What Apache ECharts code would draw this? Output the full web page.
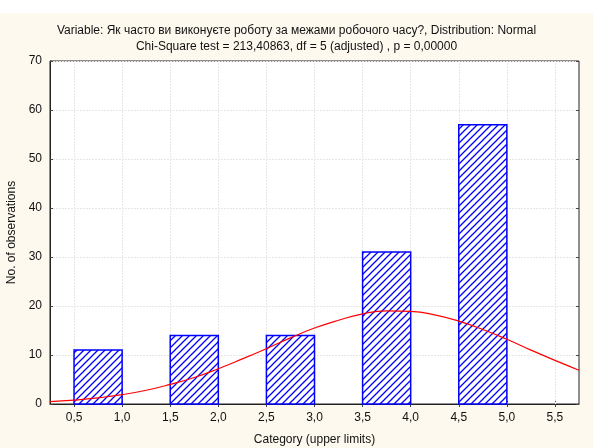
<!DOCTYPE html>
<html><head><meta charset="utf-8">
<script src="https://cdn.jsdelivr.net/npm/echarts@6/dist/echarts.min.js"></script>
<style>html,body{margin:0;padding:0;background:#fdf9ef}#c{width:593px;height:448px}</style>
</head><body><div id="c"></div>
<script>
// Histogram bins: [lower, upper] limits and observed counts
const binLower = [0.5, 1.5, 2.5, 3.5, 4.5];
const binUpper = [1.0, 2.0, 3.0, 4.0, 5.0];
const counts = [11, 14, 14, 31, 57];
// Fitted normal curve (expected frequency)
const curveX = [0.25,0.5,0.75,1.0,1.25,1.5,1.75,2.0,2.25,2.5,2.75,3.0,3.25,3.5,3.75,4.0,4.25,4.5,4.75,5.0,5.25,5.5,5.75];
const curveY = [0.5,0.8,1.25,1.9,2.8,4.0,5.4,7.2,9.2,11.3,13.5,15.5,17.1,18.4,19.0,18.9,18.2,16.9,15.2,13.2,11.0,8.9,6.9];
const xTicks = [0.5,1.0,1.5,2.0,2.5,3.0,3.5,4.0,4.5,5.0,5.5];
const titleLines = ['Variable: Як часто ви виконуєте роботу за межами робочого часу?, Distribution: Normal',
                    'Chi-Square test = 213,40863, df = 5 (adjusted) , p = 0,00000'];

const hatch = document.createElement('canvas');
hatch.width = 7; hatch.height = 7;
(function(){
  const g = hatch.getContext('2d');
  g.fillStyle = '#ffffff'; g.fillRect(0,0,7,7);
  g.strokeStyle = '#0000ff'; g.lineWidth = 1.3;
  g.beginPath();
  g.moveTo(-1,8); g.lineTo(8,-1);
  g.moveTo(-8,8); g.lineTo(1,-1);
  g.moveTo(6,8); g.lineTo(15,-1);
  g.stroke();
})();
const pattern = {image: hatch, repeat: 'repeat'};

const font = '"Liberation Sans", Arial, sans-serif';
const fmt = v => v.toFixed(1).replace('.', ',');
const chart = echarts.init(document.getElementById('c'), null, {renderer:'canvas'});
const barData = binLower.map((l,i)=>[l, binUpper[i], counts[i]]);
const curveData = curveX.map((x,i)=>[x, curveY[i]]);
const gridColor = '#e6e6e6';

chart.setOption({
  backgroundColor: '#fdf9ef',
  animation: false,
  textStyle: {fontFamily: font},
  graphic: [{type:'rect', shape:{x:0,y:0,width:593,height:13}, style:{fill:'#ffffff'}, z:-1}],
  title: {
    text: titleLines.join('\n'), left: 'center', top: 18,
    textStyle: {fontFamily: font, fontSize: 12, fontWeight: 'normal', color: '#111', lineHeight: 16}
  },
  grid: {left: 50, right: 14, top: 61, bottom: 44, outerBoundsMode: 'none', containLabel: false,
         show: true, backgroundColor: '#ffffff', borderColor: '#222', borderWidth: 1},
  xAxis: [{
    type: 'value', min: 0.25, max: 5.75,
    name: 'Category (upper limits)', nameLocation: 'middle', nameGap: 30,
    nameTextStyle: {fontFamily: font, fontSize: 12, color: '#111'},
    axisLine: {show: true, lineStyle: {color: '#222'}},
    axisTick: {show: true, inside: true, length: 3, customValues: xTicks, lineStyle:{color:'#444'}},
    axisLabel: {customValues: xTicks, formatter: fmt, fontFamily: font, fontSize: 12, color: '#111', margin: 8},
    splitLine: {show: false}
  }, {
    type: 'value', min: 0.25, max: 5.75, position: 'top',
    axisLine: {show: false},
    axisTick: {show: true, inside: true, length: 3, customValues: xTicks, lineStyle:{color:'#444'}},
    axisLabel: {show: false, customValues: xTicks},
    splitLine: {show: false}
  }],
  yAxis: [{
    type: 'value', min: 0, max: 70, interval: 10,
    name: 'No. of observations', nameLocation: 'middle', nameGap: 29,
    nameTextStyle: {fontFamily: font, fontSize: 12, color: '#111'},
    axisLine: {show: true, lineStyle: {color: '#222'}},
    axisTick: {show: true, inside: true, length: 3, lineStyle:{color:'#444'}},
    axisLabel: {fontFamily: font, fontSize: 12, color: '#111', margin: 8},
    splitLine: {show: true, lineStyle: {color: gridColor, type: [2, 1]}}
  }, {
    type: 'value', min: 0, max: 70, interval: 10, position: 'right',
    axisLine: {show: false},
    axisTick: {show: true, inside: true, length: 3, lineStyle:{color:'#444'}},
    axisLabel: {show: false}, splitLine: {show: false}
  }],
  series: [{
    type: 'custom', data: barData, encode: {x: [0,1], y: 2},
    renderItem: function(params, api){
      const p0 = api.coord([api.value(0), api.value(2)]);
      const p1 = api.coord([api.value(1), 0]);
      return {type:'rect', shape:{x:p0[0], y:p0[1], width:p1[0]-p0[0], height:p1[1]-p0[1]},
              style:{fill: pattern, stroke:'#0000ff', lineWidth: 1.5}};
    }, z: 2
  }, {
    type: 'line', data: curveData, smooth: true, showSymbol: false, symbol: 'none',
    lineStyle: {color: '#ff0000', width: 1.2}, clip: true, z: 3,
    markLine: {
      silent: true, symbol: ['none','none'], label: {show: false}, animation: false,
      lineStyle: {color: gridColor, type: [2, 1], width: 1},
      emphasis: {disabled: true},
      data: xTicks.map(v => ({xAxis: v})),
      z: 1
    }
  }]
});
</script></body></html>
